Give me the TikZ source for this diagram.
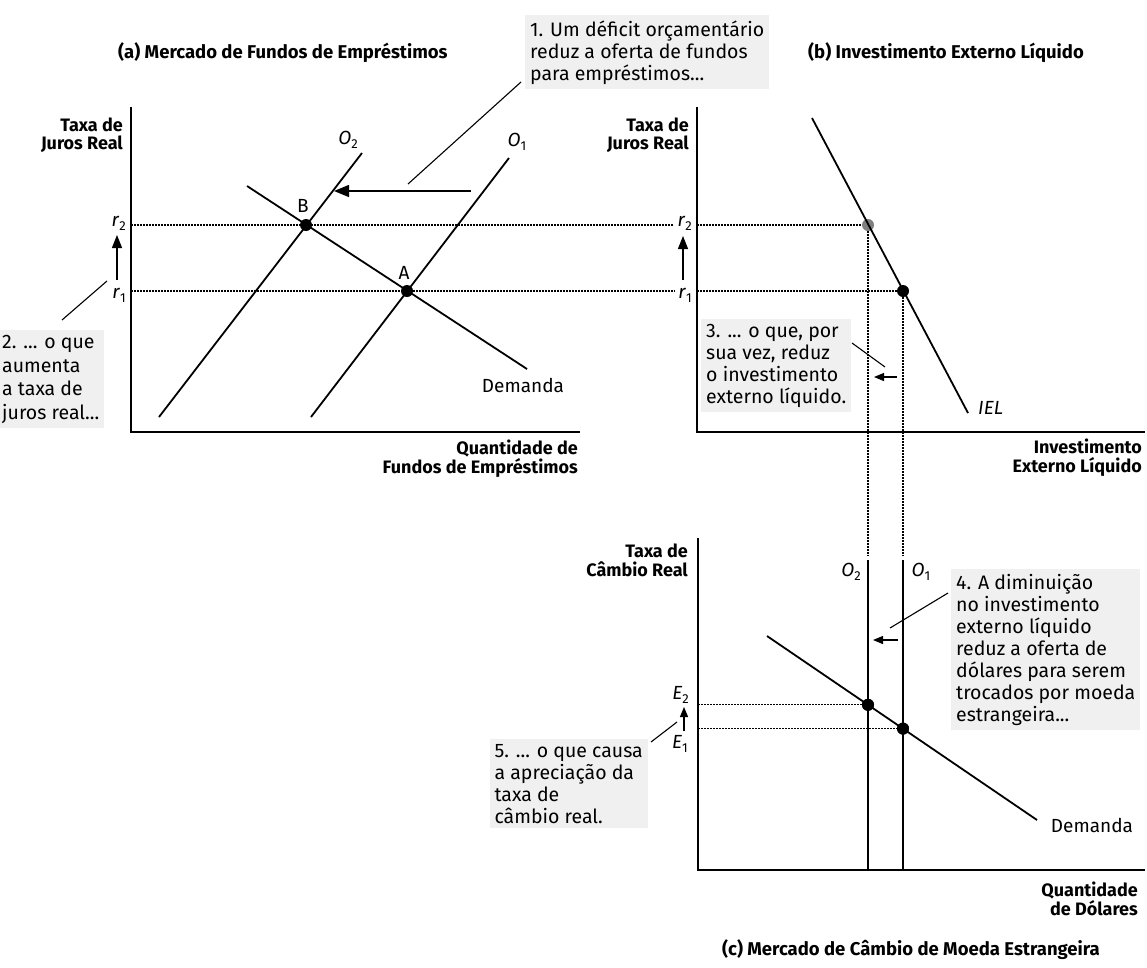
\documentclass[tikz,border=0pt]{standalone}
\usepackage{fontspec}
\setmainfont{Fira Sans}
\usetikzlibrary{arrows.meta,positioning}
\newcommand{\symsub}[2]{\textit{#1}\raisebox{-4.5pt}{\fontsize{13}{13}\selectfont #2}}

\begin{document}
\begin{tikzpicture}[x=1pt,y=-1pt,
  axis/.style={black,line width=1.8pt},
  curve/.style={black,line width=1.8pt},
  guide/.style={black,line width=1.2pt,dash pattern=on 1.5pt off 1.5pt},
  lead/.style={black,line width=1.1pt},
  bigshift/.style={black,line width=1.4pt,-{Triangle[length=15pt,width=12pt]}},
  rshift/.style={black,line width=1.2pt,-{Triangle[length=13pt,width=10pt]}},
  smallshift/.style={black,line width=1.2pt,-{Triangle[length=10pt,width=8pt]}},
  dot/.style={circle,fill=black,inner sep=0pt,minimum size=12pt},
  axlabel/.style={font=\fontsize{18}{18.5}\selectfont\bfseries,align=right,inner sep=0pt},
  paneltitle/.style={font=\fontsize{18.5}{20}\selectfont\bfseries,inner sep=0pt},
  note/.style={font=\fontsize{19.5}{22}\selectfont,align=left,fill=black!6,inner sep=5pt},
  curvelabel/.style={font=\fontsize{19}{20}\selectfont,inner sep=0pt}]

\useasboundingbox (0,0) rectangle (1147,967);

\node[paneltitle,anchor=base west] (titleA) at (118,58) {(a) Mercado de Fundos de Empréstimos};
\node[paneltitle,anchor=base west] (titleB) at (808,58) {(b) Investimento Externo Líquido};
\node[paneltitle,anchor=base east] (titleC) at (1100,955) {(c) Mercado de Câmbio de Moeda Estrangeira};

\coordinate (aTop) at (131,107);
\coordinate (aO) at (131,432);
\coordinate (aRight) at (580,432);
\coordinate (bTop) at (697,107);
\coordinate (bO) at (697,432);
\coordinate (bRight) at (1145,432);
\coordinate (cTop) at (698,538);
\coordinate (cO) at (698,870);
\coordinate (cRight) at (1145,870);
\draw[axis] (aTop) -- (aO) -- (aRight);
\draw[axis] (bTop) -- (bO) -- (bRight);
\draw[axis] (cTop) -- (cO) -- (cRight);

\node[axlabel,anchor=base east] (ylabA) at (123,149.5) {Taxa de\\Juros Real};
\node[axlabel,anchor=base east] (xlabA) at (578,473) {Quantidade de\\Fundos de Empréstimos};
\node[axlabel,anchor=base east] (ylabB) at (689,149.5) {Taxa de\\Juros Real};
\node[axlabel,anchor=base east] (xlabB) at (1142,472) {Investimento\\Externo Líquido};
\node[axlabel,anchor=base east] (ylabC) at (688,576) {Taxa de\\Câmbio Real};
\node[axlabel,anchor=base east] (xlabC) at (1138,915) {Quantidade\\de Dólares};

\node[curvelabel,anchor=base east] (r2a) at (126,226) {\symsub{r}{2}};
\node[curvelabel,anchor=base east] (r1a) at (126,298) {\symsub{r}{1}};
\node[curvelabel,anchor=base east] (r2b) at (692,226) {\symsub{r}{2}};
\node[curvelabel,anchor=base east] (r1b) at (692,298) {\symsub{r}{1}};
\node[curvelabel,anchor=base east] (e2c) at (689,699) {\symsub{E}{2}};
\node[curvelabel,anchor=base east] (e1c) at (688,748) {\symsub{E}{1}};

\node[dot,fill=black!50] (pB2) at (868,225) {};
\node[dot] (pB1) at (903,291) {};
\node[dot] (pE2) at (868,704.8) {};
\node[dot] (pE1) at (903,728.6) {};
\coordinate (aR2) at (131,225);
\coordinate (aR1) at (131,291);
\coordinate (vEnd) at (0,556);

\draw[guide,shorten >=4pt] (aR2) -- (r2b.west |- aR2);
\draw[guide,shorten >=4pt] (aR1) -- (r1b.west |- aR1);
\draw[guide] (bO |- pB2) -- (pB2);
\draw[guide] (bO |- pB1) -- (pB1);
\draw[guide] (pB2) -- (pB2 |- vEnd);
\draw[guide] (pB1) -- (pB1 |- vEnd);
\draw[guide] (cO |- pE2) -- (pE2);
\draw[guide] (cO |- pE1) -- (pE1);

\coordinate (o1aLo) at (311,417);
\coordinate (o1aHi) at (509,158);
\coordinate (o2aLo) at (159,417);
\coordinate (o2aHi) at (362,153);
\coordinate (dAHi) at (247,186);
\coordinate (dALo) at (527,369);
\draw[curve] (o1aLo) -- (o1aHi);
\draw[curve] (o2aLo) -- (o2aHi);
\draw[curve] (dAHi) -- (dALo);
\node[dot] (pA) at (407,291) {};
\node[dot] (pB) at (306,225) {};
\node[curvelabel] (labA) at (404,273) {A};
\node[curvelabel] (labB) at (303,206) {B};
\node[curvelabel] (o1aLab) at (517,142) {\symsub{O}{1}};
\node[curvelabel] (o2aLab) at (348,140) {\symsub{O}{2}};
\node[curvelabel] (dALab) at (523,385) {Demanda};

\coordinate (ielHi) at (812,118);
\coordinate (ielLo) at (968,413);
\draw[curve] (ielHi) -- (ielLo);
\node[curvelabel,font=\fontsize{19}{20}\selectfont\itshape,anchor=west] (ielLab) at (978,408) {IEL};

\coordinate (o2cHi) at (868,560);
\coordinate (o1cHi) at (903,560);
\coordinate (dCHi) at (767,636);
\coordinate (dCLo) at (1037,820);
\draw[curve] (o2cHi) -- (o2cHi |- cO);
\draw[curve] (o1cHi) -- (o1cHi |- cO);
\draw[curve] (dCHi) -- (dCLo);
\node[dot] at (pE2) {};
\node[dot] at (pE1) {};
\node[curvelabel] (o2cLab) at (851,572) {\symsub{O}{2}};
\node[curvelabel] (o1cLab) at (921,572) {\symsub{O}{1}};
\node[curvelabel] (dCLab) at (1092,825) {Demanda};

\coordinate (shiftAFrom) at (471,191);
\coordinate (shiftATo) at (334,191);
\draw[bigshift] (shiftAFrom) -- (shiftATo);
\draw[rshift] (117,280) coordinate (rArrA) -- (117,235) coordinate (rTipA);
\draw[rshift] (683,280) coordinate (rArrB) -- (683,236) coordinate (rTipB);
\draw[smallshift] (684,731) coordinate (eArr) -- (684,707) coordinate (eTip);
\draw[smallshift] (897,377) coordinate (s3From) -- (874,377) coordinate (s3To);
\draw[smallshift] (898,640) coordinate (s4From) -- (873,640) coordinate (s4To);

\node[note,anchor=base west] (note1) at (525,80) {1. Um déficit orçamentário\\reduz a oferta de fundos\\para empréstimos...};
\node[note,anchor=base west,font=\fontsize{19.5}{23.5}\selectfont] (note2) at (-3,419) {2. ... o que\\aumenta\\a taxa de\\juros real...};
\node[note,anchor=base west] (note3) at (701,403) {3. ... o que, por\\sua vez, reduz\\o investimento\\externo líquido.};
\node[note,anchor=base west] (note4) at (951,721) {4. A diminuição\\no investimento\\externo líquido\\reduz a oferta de\\dólares para serem\\trocados por moeda\\estrangeira...};
\node[note,anchor=base east] (note5) at (648,823) {5. ... o que causa\\a apreciação da\\taxa de\\câmbio real.};

\coordinate (lead1a) at (408,184);
\coordinate (lead1b) at (521,82);
\coordinate (lead2a) at (107,281);
\coordinate (lead2b) at (62,320);
\coordinate (lead3a) at (852,343);
\coordinate (lead3b) at (885,367);
\coordinate (lead4a) at (948,593);
\coordinate (lead4b) at (890,628);
\coordinate (lead5a) at (677,722);
\coordinate (lead5b) at (651,742);
\draw[lead] (lead1a) -- (lead1b);
\draw[lead] (lead2a) -- (lead2b);
\draw[lead] (lead3a) -- (lead3b);
\draw[lead] (lead4a) -- (lead4b);
\draw[lead] (lead5a) -- (lead5b);
\end{tikzpicture}
\end{document}
